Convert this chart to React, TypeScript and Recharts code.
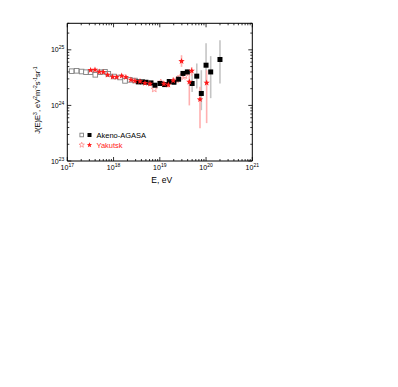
import { ScatterChart, Scatter, XAxis, YAxis, ErrorBar } from "recharts";

// energies in eV, flux J(E)E^3 in units of 1e24 eV^2 m^-2 s^-1 sr^-1
const akenoE = [1.24e17, 1.59e17, 2.04e17, 2.53e17, 3.2e17, 4.03e17, 5.09e17, 6.52e17, 7.7e17, 1.02e18, 1.38e18, 1.77e18, 2.26e18, 2.9e18];
const akenoJ = [4.13, 4.19, 4.07, 3.96, 3.96, 3.55, 3.96, 4.02, 3.7, 3.31, 3.18, 2.76, 2.88, 2.8];

const agasaE = [3.43e18, 4.19e18, 5.02e18, 6.44e18, 7.86e18, 1.01e19, 1.27e19, 1.6e19, 2.02e19, 2.55e19, 3.17e19, 3.94e19, 5.0e19, 6.3e19, 7.9e19, 1.0e20, 1.26e20, 2.0e20];
const agasaJ = [2.65, 2.65, 2.61, 2.54, 2.31, 2.48, 2.37, 2.69, 2.61, 2.96, 3.76, 4.0, 2.48, 3.36, 1.64, 5.29, 4.0, 6.7];
const agasaLo = [2.5, 2.5, 2.45, 2.4, 2.18, 2.33, 2.2, 2.45, 2.4, 2.7, 3.4, 3.6, 1.75, 2.02, 0.82, 2.31, 1.35, 2.48];
const agasaHi = [2.8, 2.8, 2.78, 2.7, 2.45, 2.63, 2.55, 2.95, 2.85, 3.25, 4.15, 4.45, 3.76, 5.68, 4.3, 13.1, 7.7, 14.9];

const yakE = [3.2e17, 3.97e17, 4.92e17, 6.0e17, 7.45e17, 9.55e17, 1.17e18, 1.5e18, 1.85e18, 2.38e18, 2.9e18, 3.73e18, 4.78e18, 6.13e18, 1.23e19, 1.53e19, 1.95e19, 2.95e19, 4.35e19, 4.9e19, 7.4e19, 1.03e20];
const yakJ = [4.3, 4.36, 4.02, 3.96, 3.55, 3.26, 3.22, 3.4, 3.22, 2.88, 2.76, 2.72, 2.51, 2.44, 2.44, 2.34, 2.8, 6.24, 2.66, 4.2, 1.28, 2.55];
const yakLo = [4.2, 4.25, 3.92, 3.86, 3.45, 3.17, 3.13, 3.3, 3.12, 2.78, 2.65, 2.6, 2.38, 2.3, 2.2, 2.1, 2.45, 4.93, 1.0, 3.4, 0.39, 0.48];
const yakHi = [4.4, 4.47, 4.12, 4.06, 3.65, 3.35, 3.31, 3.5, 3.32, 2.98, 2.87, 2.84, 2.64, 2.6, 2.7, 2.6, 3.2, 8.0, 4.3, 4.9, 2.16, 4.3];

const yakOpenE = [7.6e18, 1.05e19, 2.3e19, 2.8e19, 3.5e19];
const yakOpenJ = [1.96, 2.6, 2.88, 3.26, 3.4];
const yakOpenLo = [1.8, 2.3, 2.5, 2.8, 2.9];
const yakOpenHi = [2.15, 2.9, 3.3, 3.7, 3.9];

const xMajor = [1e17, 1e18, 1e19, 1e20, 1e21];
const yMajor = [1e23, 1e24, 1e25];
const mantissas = [1, 2, 3, 4, 5, 6, 7, 8, 9];

const xTicks = xMajor.slice(0, -1).flatMap((d) => mantissas.map((m) => m * d)).concat([1e21]);
const yTicks = yMajor.flatMap((d) => mantissas.map((m) => m * d)).filter((v) => v <= 3e25 * 1.001);

const build = (E: number[], J: number[], lo?: number[], hi?: number[]) =>
  E.map((e, i) => ({
    e,
    j: J[i] * 1e24,
    err: lo && hi ? [(J[i] - lo[i]) * 1e24, (hi[i] - J[i]) * 1e24] : [0, 0],
  }));

const akenoData = build(akenoE, akenoJ);
const agasaData = build(agasaE, agasaJ, agasaLo, agasaHi);
const yakData = build(yakE, yakJ, yakLo, yakHi);
const yakOpenData = build(yakOpenE, yakOpenJ, yakOpenLo, yakOpenHi);

const FONT = "'Liberation Sans', Arial, sans-serif";
const RED = "#ff1a1a";
const PINK = "#ff8a8a";

const starPoints = (cx: number, cy: number, r: number) => {
  const pts: string[] = [];
  for (let k = 0; k < 10; k++) {
    const rr = k % 2 === 0 ? r : r * 0.42;
    const a = -Math.PI / 2 + (k * Math.PI) / 5;
    pts.push(`${cx + rr * Math.cos(a)},${cy + rr * Math.sin(a)}`);
  }
  return pts.join(" ");
};

const OpenSquare = (p: any) => {
  const s = p.s ?? 2.3;
  return <rect x={p.cx - s} y={p.cy - s} width={2 * s} height={2 * s} fill="#fff" stroke="#808080" strokeWidth={0.9} />;
};
const FilledSquare = (p: any) => {
  const s = p.s ?? 2.5;
  return <rect x={p.cx - s} y={p.cy - s} width={2 * s} height={2 * s} fill="#000" />;
};
const FilledStar = (p: any) => <polygon points={starPoints(p.cx, p.cy, p.s ?? 3.3)} fill={RED} />;
const OpenStar = (p: any) => (
  <polygon points={starPoints(p.cx, p.cy, p.s ?? 3.3)} fill="#fff" stroke={PINK} strokeWidth={0.8} />
);

const isMajor = (v: number) => {
  const l = Math.log10(v);
  return Math.abs(l - Math.round(l)) < 1e-6;
};

function Pow({ x, y, v, anchor }: { x: number; y: number; v: number; anchor: "middle" | "end" }) {
  return (
    <text x={x} y={y} textAnchor={anchor} fontFamily={FONT} fontSize={7} fill="#000">
      <tspan>10</tspan>
      <tspan dy={-3} fontSize={5}>
        {Math.round(Math.log10(v))}
      </tspan>
    </text>
  );
}

function Tick(props: any) {
  const { x, y, payload, side } = props;
  const v = payload.value;
  const major = isMajor(v);
  const len = major ? 4 : 2;
  if (side === "bottom")
    return (
      <g>
        <line x1={x} y1={y} x2={x} y2={y - len} stroke="#000" strokeWidth={0.8} />
        {major && <Pow x={x} y={y + 9} v={v} anchor="middle" />}
      </g>
    );
  if (side === "top") return <line x1={x} y1={y} x2={x} y2={y + len} stroke="#000" strokeWidth={0.8} />;
  if (side === "left")
    return (
      <g>
        <line x1={x} y1={y} x2={x + len} y2={y} stroke="#000" strokeWidth={0.8} />
        {major && <Pow x={x - 3} y={y + 2.5} v={v} anchor="end" />}
      </g>
    );
  return <line x1={x} y1={y} x2={x - len} y2={y} stroke="#000" strokeWidth={0.8} />;
}

const axisCommon = {
  type: "number" as const,
  scale: "log" as const,
  allowDataOverflow: true,
  interval: 0 as const,
  tickSize: 0,
  tickMargin: 0,
  tickLine: false,
  axisLine: { stroke: "#000", strokeWidth: 1 },
};

export default function App() {
  const W = 390;
  const H = 370;
  return (
    <div style={{ position: "relative", width: W, height: H }}>
      <ScatterChart width={W} height={H} margin={{ top: 14.3, left: 58.3, right: 144.7, bottom: 216 }}>
        <XAxis {...axisCommon} dataKey="e" xAxisId="b" domain={[1e17, 1e21]} ticks={xTicks} height={1}
          tick={(p: any) => <Tick {...p} side="bottom" />} />
        <XAxis {...axisCommon} dataKey="e" xAxisId="t" orientation="top" domain={[1e17, 1e21]} ticks={xTicks} height={1}
          tick={(p: any) => <Tick {...p} side="top" />} />
        <YAxis {...axisCommon} dataKey="j" yAxisId="l" domain={[1e23, 3e25]} ticks={yTicks} width={1}
          tick={(p: any) => <Tick {...p} side="left" />} />
        <YAxis {...axisCommon} dataKey="j" yAxisId="r" orientation="right" domain={[1e23, 3e25]} ticks={yTicks} width={1}
          tick={(p: any) => <Tick {...p} side="right" />} />
        <Scatter data={akenoData} xAxisId="b" yAxisId="l" shape={OpenSquare} isAnimationActive={false} />
        <Scatter data={yakOpenData} xAxisId="b" yAxisId="l" shape={OpenStar} isAnimationActive={false}>
          <ErrorBar dataKey="err" direction="y" width={0} stroke="#ffc0c0" strokeWidth={1.6} isAnimationActive={false} />
        </Scatter>
        <Scatter data={agasaData} xAxisId="b" yAxisId="l" shape={FilledSquare} isAnimationActive={false}>
          <ErrorBar dataKey="err" direction="y" width={0} stroke="#c4c4c4" strokeWidth={1.6} isAnimationActive={false} />
        </Scatter>
        <Scatter data={yakData} xAxisId="b" yAxisId="l" shape={FilledStar} isAnimationActive={false}>
          <ErrorBar dataKey="err" direction="y" width={0} stroke="#ffb0b0" strokeWidth={1.6} isAnimationActive={false} />
        </Scatter>
      </ScatterChart>
      <svg width={W} height={H} style={{ position: "absolute", left: 0, top: 0, pointerEvents: "none" }}>
        <text x={153.7} y={175} textAnchor="middle" fontFamily={FONT} fontSize={8.5} fill="#000">
          E, eV
        </text>
        <text transform="rotate(-90 31.5 92)" x={31.5} y={92} textAnchor="middle" fontFamily={FONT} fontSize={7.5} fill="#000">
          <tspan>J(E)E</tspan>
          <tspan dy={-3} fontSize={5}>3</tspan>
          <tspan dy={3}>, eV</tspan>
          <tspan dy={-3} fontSize={5}>2</tspan>
          <tspan dy={3}>m</tspan>
          <tspan dy={-3} fontSize={5}>-2</tspan>
          <tspan dy={3}>s</tspan>
          <tspan dy={-3} fontSize={5}>-1</tspan>
          <tspan dy={3}>sr</tspan>
          <tspan dy={-3} fontSize={5}>-1</tspan>
        </text>
        <OpenSquare cx={73.7} cy={127} s={1.8} />
        <FilledSquare cx={81.5} cy={127} s={2} />
        <text x={88.5} y={129.7} fontFamily={FONT} fontSize={7.5} fill="#000">
          Akeno-AGASA
        </text>
        <OpenStar cx={73.7} cy={137} s={2.8} />
        <FilledStar cx={81.5} cy={137} s={2.8} />
        <text x={88.5} y={139.7} fontFamily={FONT} fontSize={7.5} fill={RED}>
          Yakutsk
        </text>
      </svg>
    </div>
  );
}
